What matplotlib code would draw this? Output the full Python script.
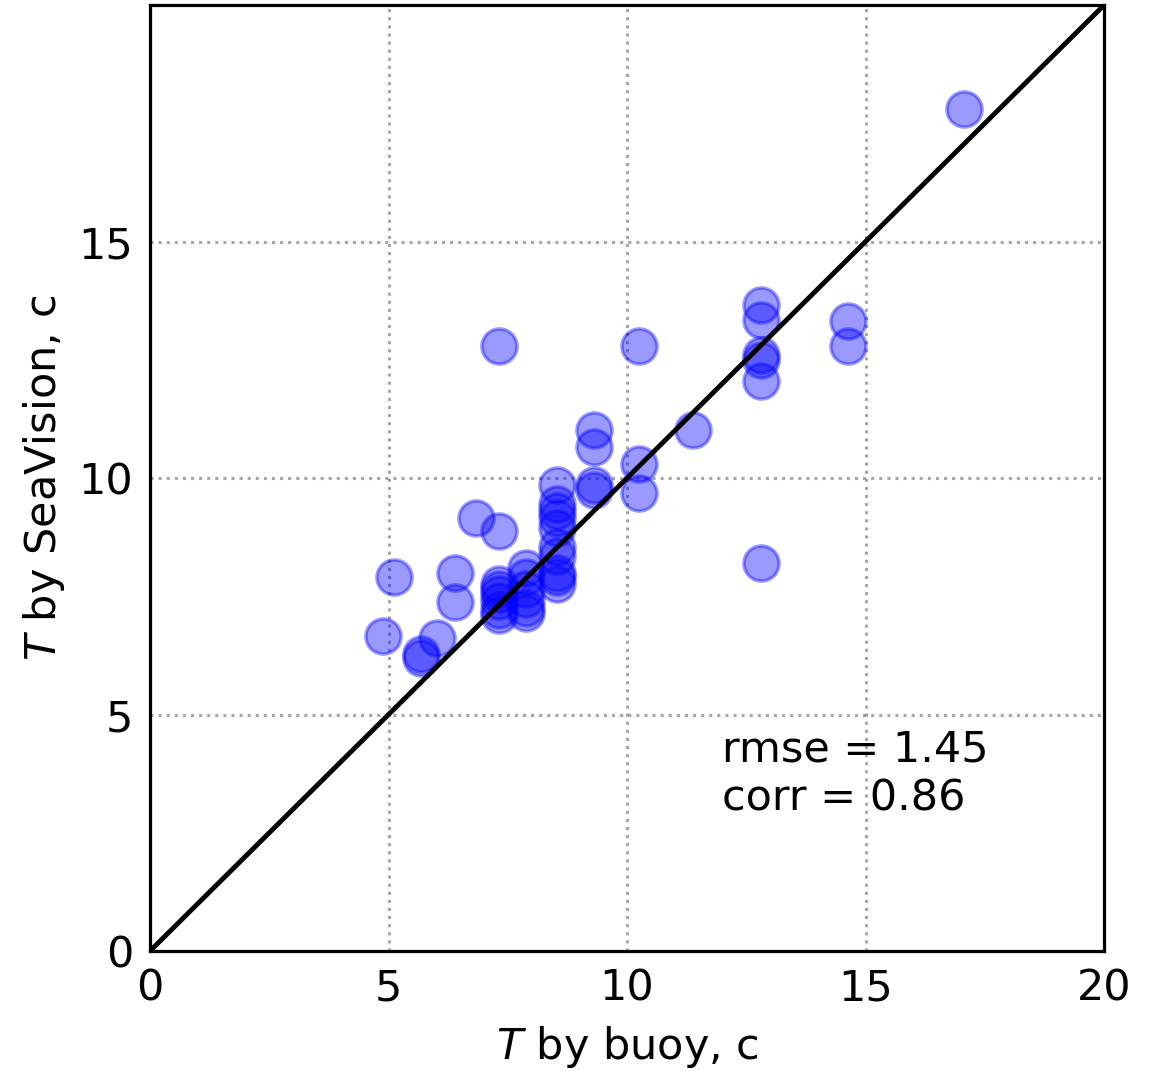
import matplotlib.pyplot as plt

# buoy period (x) vs SeaVision period (y)
t_buoy = [17.07, 7.31, 10.24, 12.8, 12.8, 12.8, 12.8, 12.8, 14.63, 14.63,
          11.38, 9.31, 9.31, 9.31, 9.31, 10.24, 10.24, 12.8,
          8.53, 8.53, 8.53, 8.53, 8.53, 8.53, 8.53, 8.53, 8.53, 8.53,
          6.83, 7.31, 6.4, 6.4, 5.12, 4.88, 6.02, 5.69, 5.69,
          7.31, 7.31, 7.31, 7.31, 7.31, 7.31,
          7.88, 7.88, 7.88, 7.88, 7.88, 7.88]
t_sv = [17.8, 12.79, 12.79, 13.65, 13.34, 12.6, 12.5, 12.05, 13.33, 12.79,
        11.02, 11.02, 10.65, 9.85, 9.75, 10.3, 9.68, 8.2,
        9.85, 9.45, 9.3, 9.15, 8.95, 8.55, 8.35, 8.0, 7.9, 7.75,
        9.15, 8.88, 8.0, 7.38, 7.9, 6.66, 6.62, 6.2, 6.28,
        7.75, 7.65, 7.55, 7.4, 7.2, 7.1,
        8.1, 7.9, 7.65, 7.45, 7.25, 7.15]
rmse = 1.45
corr = 0.86

fig = plt.figure(figsize=(11.58, 10.71), dpi=100)
ax = fig.add_axes([0.1295, 0.112, 0.824, 0.8833])

ax.scatter(t_buoy, t_sv, s=640, c='b', alpha=0.4, edgecolors='b', linewidths=2.5, zorder=2)
ax.plot([0, 20], [0, 20], color='k', lw=3.5, zorder=3)

ax.set_xlim(0, 20)
ax.set_ylim(0, 20)
ax.set_xticks([0, 5, 10, 15, 20])
ax.set_yticks([0, 5, 10, 15])
ax.tick_params(labelsize=31, length=0, pad=12)
ax.grid(True, linestyle=':', color='grey', alpha=0.7, lw=2.2, zorder=0)
for sp in ax.spines.values():
    sp.set_linewidth(2.3)

ax.set_xlabel('$T$ by buoy, c', fontsize=31, labelpad=10)
ax.set_ylabel('$T$ by SeaVision, c', fontsize=31, labelpad=8)

ax.text(12, 2.78, f'rmse = {rmse:.2f}\ncorr = {corr:.2f}', fontsize=31,
        va='bottom', ha='left', linespacing=1.2)

plt.savefig('out.png', dpi=100)
